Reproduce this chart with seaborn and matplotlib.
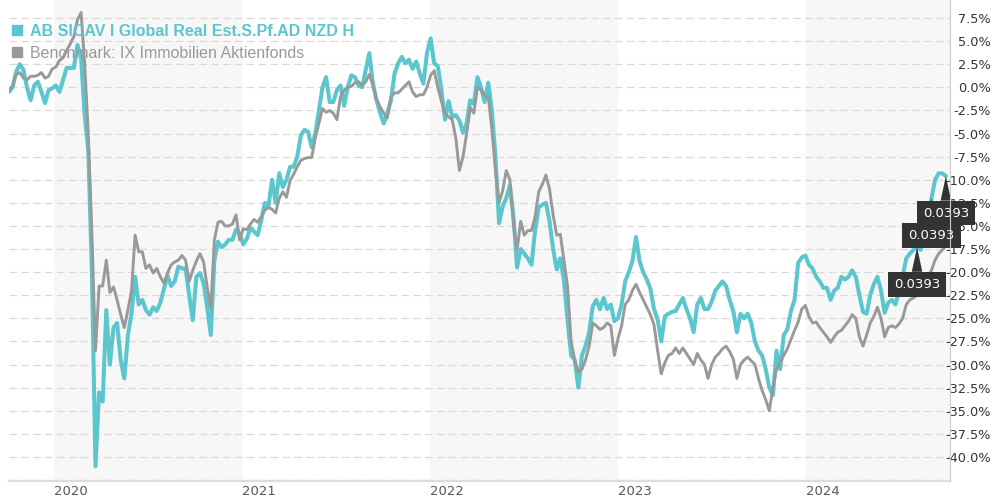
import matplotlib
matplotlib.use("Agg")
import matplotlib.pyplot as plt
from matplotlib.lines import Line2D
import numpy as np
import pandas as pd
import seaborn as sns

# ---- data -----------------------------------------------------------------
fund_name = "AB SICAV I Global Real Est.S.Pf.AD NZD H"
bench_name = "Benchmark: IX Immobilien Aktienfonds"
start_date = "2019-10-06"          # weekly observations from here on

# cumulative performance in percent, one value per week
fund = [
    -0.5, 0.0, 1.7, 2.5, 1.9, 0.0, -1.4, 0.2, 0.6, -0.5,
    -1.7, -0.3, -0.1, 0.2, -0.5, 0.8, 2.1, 2.1, 2.1, 4.6,
    3.2, -3.0, -6.8, -20.0, -41.0, -33.0, -34.0, -24.1, -30.0, -26.0,
    -25.5, -29.5, -31.5, -26.8, -24.5, -20.5, -23.5, -23.0, -24.1, -24.6,
    -23.8, -24.2, -23.3, -21.8, -20.4, -21.5, -21.0, -19.4, -19.6, -19.6,
    -22.5, -25.2, -20.5, -20.1, -21.2, -23.8, -26.8, -18.7, -16.7, -17.3,
    -17.0, -16.5, -16.5, -15.4, -15.8, -17.0, -16.4, -15.2, -15.6, -16.0,
    -14.4, -12.5, -12.9, -10.0, -12.5, -9.3, -10.8, -10.0, -8.6, -8.6,
    -7.5, -5.2, -4.6, -4.8, -6.5, -5.0, -2.5, 0.0, 1.1, -1.6,
    -1.6, -0.3, 0.2, -2.0, 0.0, 1.3, 1.1, 0.2, 0.0, 1.9,
    3.7, 0.4, -1.4, -2.8, -3.9, -2.8, -1.4, 1.5, 2.6, 3.3,
    2.6, 3.0, 2.0, 2.8, 1.5, 0.4, 3.7, 5.3, 2.6, 2.3,
    -0.3, -3.5, -1.5, -3.2, -3.0, -3.6, -4.9, -3.9, -1.4, -1.8,
    1.1, 0.0, -1.6, 0.5, -2.5, -7.5, -14.7, -12.9, -12.0, -10.6,
    -14.0, -19.5, -17.5, -18.0, -18.5, -19.2, -15.5, -13.0, -12.7, -12.5,
    -14.5, -17.5, -19.7, -18.5, -20.9, -25.2, -29.0, -29.5, -32.5, -29.0,
    -28.0, -26.5, -23.7, -23.0, -24.0, -22.8, -24.0, -23.5, -25.3, -25.0,
    -23.5, -21.0, -20.0, -18.8, -16.2, -18.8, -20.0, -20.8, -21.8, -24.0,
    -25.1, -27.5, -24.8, -24.5, -24.3, -24.2, -23.5, -22.8, -24.0, -25.0,
    -26.5, -23.5, -22.8, -24.0, -24.0, -23.2, -22.0, -21.5, -21.0, -21.5,
    -23.0, -24.2, -26.5, -24.5, -25.0, -24.5, -25.5, -27.5, -28.5, -29.0,
    -30.5, -32.5, -33.3, -28.5, -30.5, -26.8, -26.2, -24.2, -23.0, -19.0,
    -18.4, -18.2, -19.2, -19.6, -20.5, -21.0, -21.7, -21.7, -23.0, -22.0,
    -21.7, -20.5, -20.8, -20.5, -19.8, -20.5, -22.5, -24.3, -24.5, -22.5,
    -21.3, -20.5, -22.0, -24.4, -23.3, -23.0, -23.5, -22.0, -20.5, -18.5,
    -18.0, -17.6, -17.3, -17.6, -16.2, -14.0, -12.0, -10.0, -9.3, -9.3, -9.6,
]

benchmark = [
    -0.3, 0.2, 1.4, 1.6, 1.0, 0.8, 1.2, 1.2, 1.3, 1.6,
    1.0, 1.2, 2.0, 2.2, 2.9, 3.2, 4.0, 4.7, 5.5, 7.3,
    8.1, 2.5, -5.0, -15.8, -28.5, -21.5, -21.5, -18.7, -22.2, -21.6,
    -23.0, -24.6, -26.0, -24.1, -22.0, -16.0, -17.8, -17.8, -19.6, -19.2,
    -20.1, -19.6, -20.5, -21.2, -20.1, -19.2, -18.9, -18.7, -18.2, -18.7,
    -21.0, -19.8, -18.8, -18.0, -18.9, -21.6, -24.0, -16.5, -14.6, -14.5,
    -15.0, -15.0, -14.8, -13.8, -16.5, -15.3, -15.4, -14.8, -14.3, -14.6,
    -14.0, -13.3, -13.0, -13.2, -13.6, -12.0, -11.3, -11.9, -10.1, -9.4,
    -8.6, -7.9, -7.7, -7.6, -7.6, -5.5, -3.9, -2.3, -2.7, -2.5,
    -2.8, -3.5, -1.0, -0.3, 0.0, 0.1, 0.5, 0.6, 0.2, 0.6,
    1.4, 0.2, -1.3, -2.1, -2.8, -3.3, -1.0, -0.6, -0.6, -0.2,
    0.2, 0.6, -0.5, -1.0, -0.8, -0.8, 0.0, 1.3, 1.8, 0.0,
    -1.5, -2.9, -3.2, -3.5, -5.5, -9.0, -7.5, -5.0, -2.2, -2.8,
    0.0, -0.3, -0.9, -1.0, -4.5, -9.0, -12.5, -11.2, -9.0, -10.0,
    -14.8, -17.6, -14.5, -16.0, -15.5, -15.5, -14.0, -11.3, -10.5, -9.5,
    -11.0, -13.8, -16.0, -15.9, -18.7, -21.5, -27.5, -29.5, -30.8, -30.5,
    -29.5, -28.0, -25.5, -25.8, -26.2, -26.0, -25.5, -25.8, -29.0, -27.2,
    -25.8, -23.5, -23.0, -22.0, -21.3, -22.2, -23.0, -23.8, -24.6, -25.7,
    -28.5, -31.0, -29.8, -29.0, -28.8, -28.2, -28.8, -28.2, -28.8, -29.4,
    -30.0, -28.8, -29.5, -30.0, -31.5, -30.0, -29.2, -28.8, -28.3, -28.0,
    -28.6, -29.4, -31.5, -30.0, -29.5, -29.2, -29.6, -30.0, -31.5, -32.8,
    -33.8, -35.0, -32.5, -30.5, -29.8, -29.0, -28.3, -27.3, -26.3, -25.4,
    -24.0, -23.6, -24.8, -25.5, -25.4, -26.0, -26.5, -27.0, -27.6, -27.0,
    -26.5, -26.3, -25.8, -25.3, -24.6, -25.0, -27.0, -28.0, -26.8, -25.5,
    -24.8, -23.8, -25.0, -27.0, -26.0, -25.8, -26.0, -25.6, -25.0, -23.5,
    -23.0, -22.8, -22.5, -22.0, -21.2, -20.5, -19.8, -18.7, -18.0, -17.6, -17.2,
]

years = [2020, 2021, 2022, 2023, 2024]
shaded_years = [2020, 2022, 2024]
y_ticks = [-42.5, -40.0, -37.5, -35.0, -32.5, -30.0, -27.5, -25.0, -22.5, -20.0,
           -17.5, -15.0, -12.5, -10.0, -7.5, -5.0, -2.5, 0.0, 2.5, 5.0, 7.5]
marker_text = "0.0393"
marker_points = [252, 256, 260]    # week index of each flagged fund value

# ---- styling ----------------------------------------------------------------
FUND_COLOR = "#5cc6ce"
BENCH_COLOR = "#999999"

sns.set_theme(style="white")
plt.rcParams["font.family"] = ["DejaVu Sans"]
plt.rcParams["axes.unicode_minus"] = False

dates = pd.date_range(start_date, periods=len(fund), freq="7D")
df_fund = pd.DataFrame({"date": dates, "value": fund})
df_bench = pd.DataFrame({"date": dates, "value": benchmark})

fig = plt.figure(figsize=(9.92, 5.0), dpi=100)
ax = fig.add_axes([9 / 992, 19 / 500, 941 / 992, 481 / 500])

# alternating year bands
for yr in shaded_years:
    ax.axvspan(pd.Timestamp(f"{yr}-01-01"), pd.Timestamp(f"{yr + 1}-01-01"),
               color="#f7f7f7", lw=0, zorder=0)

sns.lineplot(data=df_fund, x="date", y="value", ax=ax, color=FUND_COLOR,
             linewidth=2.9, zorder=2)
sns.lineplot(data=df_bench, x="date", y="value", ax=ax, color=BENCH_COLOR,
             linewidth=2.1, zorder=3)

ax.set_xlim(pd.Timestamp("2019-10-06"), pd.Timestamp("2024-10-07"))
ax.set_ylim(-42.6, 9.45)
ax.set_xlabel("")
ax.set_ylabel("")

# y axis on the right, labels right-aligned
ax.yaxis.tick_right()
ax.set_yticks(y_ticks)
ax.set_yticklabels(["" if v == -42.5 else f"{v:.1f}%" for v in y_ticks])
ax.tick_params(axis="y", length=0, pad=29.5, labelsize=9.3, labelcolor="#333333")
for lab in ax.get_yticklabels():
    lab.set_horizontalalignment("right")
ax.yaxis.grid(True, color="#d9d9d9", linestyle=(0, (6, 3.5)), linewidth=0.9)
ax.xaxis.grid(False)

# year labels start at 1 January
ax.set_xticks([pd.Timestamp(f"{y}-01-01") for y in years])
ax.set_xticklabels([str(y) for y in years])
ax.tick_params(axis="x", length=0, pad=3, labelsize=9.5, labelcolor="#555555")
for lab in ax.get_xticklabels():
    lab.set_horizontalalignment("left")

for side in ("top", "left"):
    ax.spines[side].set_visible(False)
ax.spines["right"].set_color("#cccccc")
ax.spines["right"].set_linewidth(0.8)
ax.spines["right"].set_zorder(10)
ax.spines["bottom"].set_color("#dddddd")
ax.spines["bottom"].set_linewidth(1.6)

# legend as coloured squares with coloured names
handles = [Line2D([], [], marker="s", linestyle="none", markersize=7.5,
                  color=FUND_COLOR),
           Line2D([], [], marker="s", linestyle="none", markersize=7.5,
                  color=BENCH_COLOR)]
leg = ax.legend(handles, [fund_name, bench_name], loc="upper left",
                bbox_to_anchor=(12 / 992, 1 - 24 / 500),
                bbox_transform=fig.transFigure, frameon=False,
                handlelength=0.65, handletextpad=0.45, labelspacing=0.42,
                borderpad=0, borderaxespad=0,
                prop={"family": ["Liberation Sans", "DejaVu Sans"], "size": 11.5})
leg.set_zorder(6)
texts = leg.get_texts()
texts[0].set_color(FUND_COLOR)
texts[0].set_fontweight("bold")
texts[1].set_color(BENCH_COLOR)

# value flags on the fund line
for z, idx in enumerate(marker_points):
    ax.annotate(marker_text, xy=(dates[idx], fund[idx]), xytext=(0, -37),
                textcoords="offset pixels", ha="center", va="center",
                color="white", fontsize=9.5, annotation_clip=False,
                zorder=7 + z,
                bbox=dict(boxstyle="square,pad=0.45", fc="#333333", ec="none"),
                arrowprops=dict(arrowstyle="wedge,tail_width=0.8,shrink_factor=0.5",
                                fc="#333333", ec="none", shrinkA=0, shrinkB=0))

fig.savefig("out.png", dpi=100)
